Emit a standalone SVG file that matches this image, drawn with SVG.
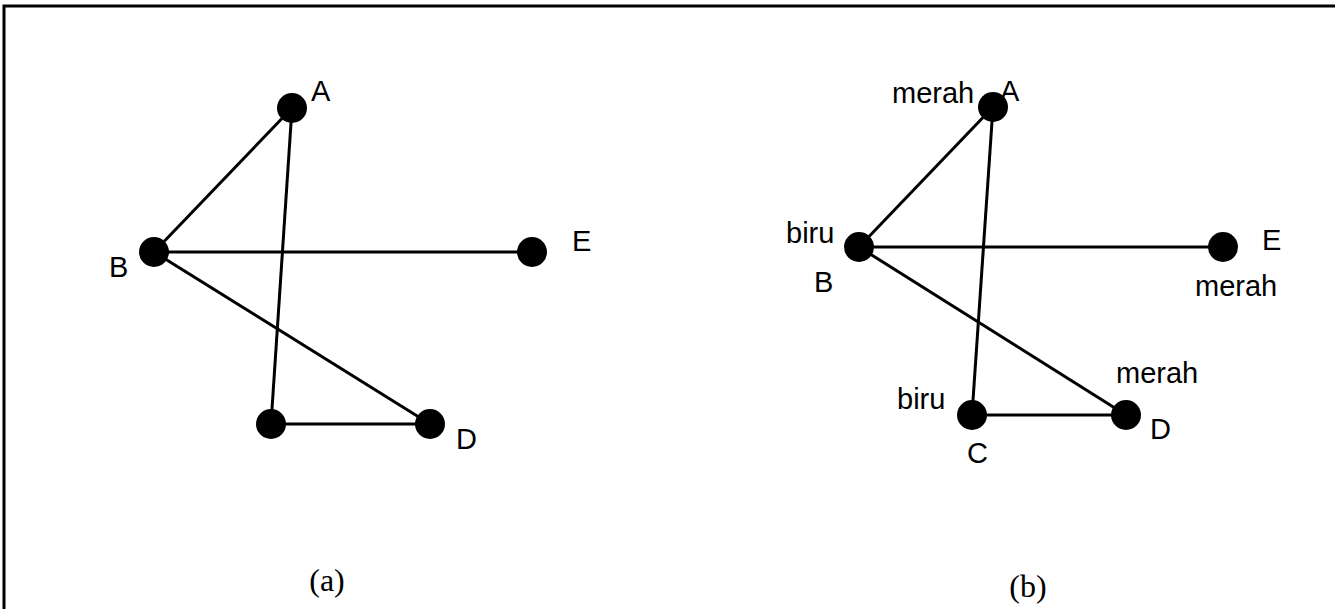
<svg xmlns="http://www.w3.org/2000/svg" width="1335" height="609" viewBox="0 0 1335 609">
<style>
.e{stroke:#000;stroke-width:3;fill:none}
.n{fill:#000}
.t{font-family:"Liberation Sans",Arial,sans-serif;font-size:29px;fill:#000}
.c{font-family:"Liberation Serif","Times New Roman",serif;font-size:32px;fill:#000;text-anchor:middle}
</style>
<rect width="1335" height="609" fill="#fff"/>
<path d="M4,610 V6 H1336" stroke="#000" stroke-width="3" fill="none"/>
<g id="connectors">
<line class="e" x1="292" y1="108" x2="154" y2="252"/>
<line class="e" x1="292" y1="108" x2="271" y2="424"/>
<line class="e" x1="154" y1="252" x2="532" y2="252"/>
<line class="e" x1="154" y1="252" x2="430" y2="424"/>
<line class="e" x1="271" y1="424" x2="430" y2="424"/>
<line class="e" x1="993" y1="107" x2="859" y2="247"/>
<line class="e" x1="993" y1="107" x2="972" y2="415"/>
<line class="e" x1="859" y1="247" x2="1223" y2="247"/>
<line class="e" x1="859" y1="247" x2="1126" y2="415"/>
<line class="e" x1="972" y1="415" x2="1126" y2="415"/>
</g>
<g id="a-A"><circle class="n" cx="292" cy="108" r="15"/><text class="t" x="311" y="101">A</text></g>
<g id="a-B"><circle class="n" cx="154" cy="252" r="15"/><text class="t" x="109" y="277">B</text></g>
<g id="a-E"><circle class="n" cx="532" cy="252" r="15"/><text class="t" x="572" y="251">E</text></g>
<g id="a-C"><circle class="n" cx="271" cy="424" r="15"/></g>
<g id="a-D"><circle class="n" cx="430" cy="424" r="15"/><text class="t" x="456" y="449">D</text></g>
<g id="b-A"><circle class="n" cx="993" cy="107" r="15"/><text class="t" x="892" y="103">merah</text><text class="t" x="1000" y="101">A</text></g>
<g id="b-B"><circle class="n" cx="859" cy="247" r="15"/><text class="t" x="786" y="243">biru</text><text class="t" x="814" y="292">B</text></g>
<g id="b-E"><circle class="n" cx="1223" cy="247" r="15"/><text class="t" x="1262" y="250">E</text><text class="t" x="1195" y="296">merah</text></g>
<g id="b-C"><circle class="n" cx="972" cy="415" r="15"/><text class="t" x="897" y="409">biru</text><text class="t" x="967" y="463">C</text></g>
<g id="b-D"><circle class="n" cx="1126" cy="415" r="15"/><text class="t" x="1116" y="383">merah</text><text class="t" x="1150" y="439">D</text></g>
<text class="c" x="327" y="591">(a)</text>
<text class="c" x="1028" y="597">(b)</text>
</svg>
